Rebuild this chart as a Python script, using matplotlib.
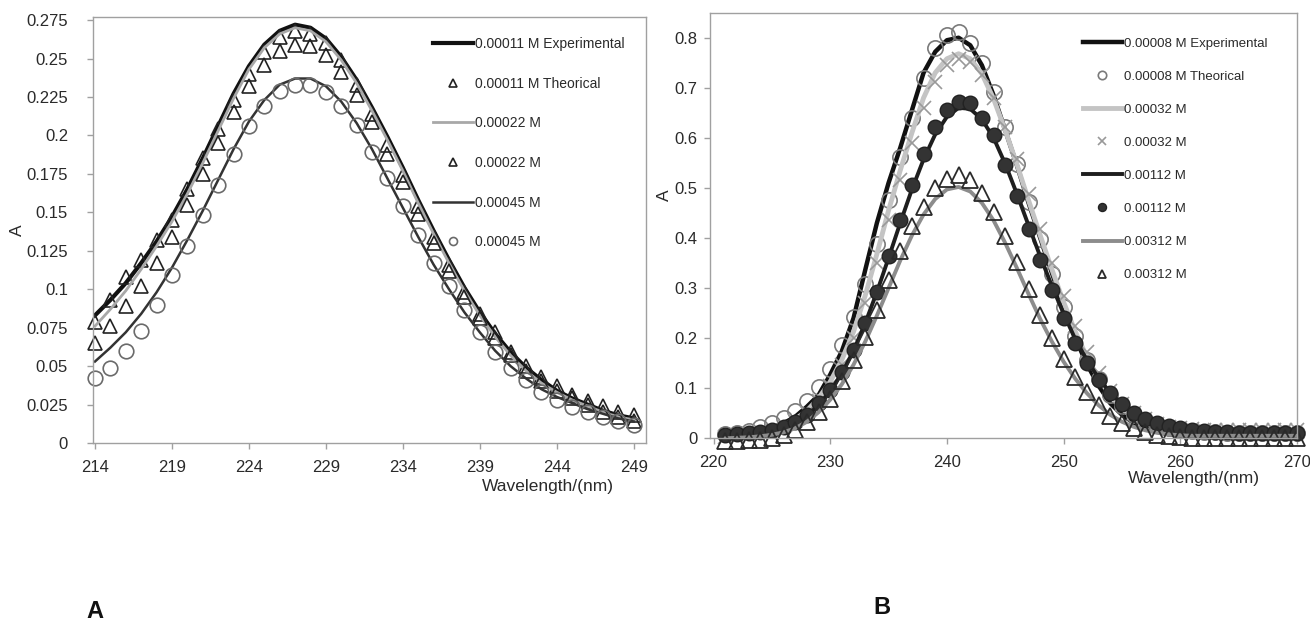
import numpy as np
from matplotlib import pyplot as plt

plt.rcParams['font.family'] = ['Liberation Sans', 'DejaVu Sans']

# ---- panel A: 214-249 nm ----
wl_a = list(range(214, 250))
a_exp_011 = [0.083, 0.093, 0.104, 0.117, 0.131, 0.147, 0.165, 0.185, 0.206, 0.227,
             0.245, 0.259, 0.268, 0.272, 0.270, 0.263, 0.251, 0.236, 0.218, 0.199,
             0.179, 0.158, 0.138, 0.119, 0.101, 0.085, 0.071, 0.059, 0.049, 0.041,
             0.034, 0.029, 0.025, 0.021, 0.018, 0.016]
a_th_011 = [0.079, 0.093, 0.108, 0.119, 0.132, 0.145, 0.165, 0.185, 0.204, 0.223,
            0.240, 0.254, 0.264, 0.268, 0.266, 0.260, 0.249, 0.233, 0.214, 0.194,
            0.174, 0.154, 0.134, 0.116, 0.098, 0.084, 0.072, 0.059, 0.050, 0.043,
            0.037, 0.031, 0.027, 0.024, 0.020, 0.018]
a_exp_022 = [0.076, 0.087, 0.099, 0.113, 0.128, 0.144, 0.162, 0.182, 0.203, 0.224,
             0.243, 0.257, 0.266, 0.270, 0.268, 0.261, 0.249, 0.234, 0.216, 0.197,
             0.177, 0.156, 0.136, 0.117, 0.099, 0.083, 0.069, 0.057, 0.047, 0.039,
             0.033, 0.028, 0.024, 0.020, 0.017, 0.015]
a_th_022 = [0.065, 0.076, 0.089, 0.102, 0.117, 0.134, 0.155, 0.175, 0.195, 0.215,
            0.232, 0.246, 0.255, 0.259, 0.258, 0.252, 0.241, 0.226, 0.209, 0.188,
            0.170, 0.149, 0.130, 0.112, 0.095, 0.081, 0.068, 0.057, 0.047, 0.040,
            0.034, 0.029, 0.025, 0.020, 0.017, 0.014]
a_exp_045 = [0.053, 0.062, 0.072, 0.084, 0.098, 0.114, 0.132, 0.151, 0.171, 0.191,
             0.209, 0.223, 0.233, 0.237, 0.237, 0.232, 0.222, 0.208, 0.191, 0.172,
             0.153, 0.134, 0.116, 0.100, 0.085, 0.072, 0.060, 0.050, 0.042, 0.035,
             0.030, 0.026, 0.022, 0.019, 0.016, 0.014]
a_th_045 = [0.042, 0.049, 0.060, 0.073, 0.090, 0.109, 0.128, 0.148, 0.168, 0.188,
            0.206, 0.219, 0.229, 0.233, 0.233, 0.228, 0.219, 0.207, 0.189, 0.172,
            0.154, 0.135, 0.117, 0.102, 0.0865, 0.072, 0.059, 0.0485, 0.041, 0.033,
            0.028, 0.0236, 0.020, 0.017, 0.014, 0.012]
a_xticks = [214, 219, 224, 229, 234, 239, 244, 249]
a_yticks = [0, 0.025, 0.05, 0.075, 0.1, 0.125, 0.15, 0.175, 0.2, 0.225, 0.25, 0.275]
a_ylabels = ['0', '0.025', '0.05', '0.075', '0.1', '0.125', '0.15', '0.175',
             '0.2', '0.225', '0.25', '0.275']

# ---- panel B: 221-270 nm ----
wl_b = list(range(221, 271))
b_exp_008 = [0.006, 0.009, 0.012, 0.016, 0.021, 0.030, 0.043, 0.063, 0.086, 0.127,
             0.174, 0.240, 0.336, 0.430, 0.510, 0.580, 0.655, 0.730, 0.772, 0.795,
             0.800, 0.785, 0.745, 0.685, 0.615, 0.545, 0.470, 0.400, 0.330, 0.262,
             0.200, 0.148, 0.105, 0.070, 0.047, 0.031, 0.020, 0.013, 0.008, 0.005,
             0.003, 0.002, 0.002, 0.001, 0.001, 0.001, 0.001, 0.001, 0.001, 0.001]
b_th_008 = [0.009, 0.011, 0.015, 0.022, 0.030, 0.040, 0.055, 0.075, 0.103, 0.139,
            0.186, 0.242, 0.309, 0.389, 0.475, 0.561, 0.640, 0.720, 0.780, 0.805,
            0.812, 0.790, 0.750, 0.692, 0.622, 0.548, 0.472, 0.398, 0.328, 0.263,
            0.205, 0.157, 0.118, 0.087, 0.064, 0.047, 0.035, 0.027, 0.021, 0.017,
            0.015, 0.013, 0.012, 0.011, 0.011, 0.010, 0.010, 0.010, 0.010, 0.010]
b_exp_032 = [0.004, 0.006, 0.009, 0.013, 0.018, 0.026, 0.038, 0.055, 0.080, 0.113,
             0.157, 0.213, 0.285, 0.368, 0.455, 0.535, 0.610, 0.680, 0.730, 0.758,
             0.768, 0.758, 0.728, 0.678, 0.615, 0.547, 0.475, 0.405, 0.337, 0.272,
             0.213, 0.162, 0.120, 0.086, 0.061, 0.044, 0.032, 0.024, 0.019, 0.016,
             0.014, 0.013, 0.012, 0.012, 0.011, 0.011, 0.011, 0.011, 0.011, 0.011]
b_th_032 = [0.003, 0.005, 0.008, 0.012, 0.017, 0.024, 0.035, 0.051, 0.074, 0.105,
            0.147, 0.200, 0.270, 0.350, 0.435, 0.515, 0.590, 0.660, 0.712, 0.745,
            0.758, 0.752, 0.725, 0.680, 0.622, 0.557, 0.487, 0.418, 0.350, 0.285,
            0.225, 0.173, 0.130, 0.095, 0.069, 0.051, 0.038, 0.029, 0.023, 0.020,
            0.018, 0.017, 0.016, 0.016, 0.016, 0.016, 0.016, 0.016, 0.016, 0.016]
b_exp_112 = [0.005, 0.007, 0.009, 0.012, 0.016, 0.022, 0.031, 0.045, 0.066, 0.094,
             0.130, 0.175, 0.230, 0.292, 0.360, 0.430, 0.497, 0.557, 0.607, 0.642,
             0.660, 0.658, 0.637, 0.600, 0.548, 0.488, 0.425, 0.363, 0.304, 0.249,
             0.198, 0.156, 0.120, 0.091, 0.068, 0.050, 0.037, 0.028, 0.021, 0.016,
             0.013, 0.011, 0.010, 0.009, 0.008, 0.008, 0.008, 0.008, 0.008, 0.008]
b_th_112 = [0.007, 0.008, 0.010, 0.013, 0.017, 0.023, 0.033, 0.047, 0.070, 0.097,
            0.133, 0.176, 0.230, 0.293, 0.364, 0.436, 0.505, 0.568, 0.622, 0.655,
            0.672, 0.670, 0.640, 0.605, 0.545, 0.483, 0.418, 0.357, 0.297, 0.241,
            0.190, 0.150, 0.117, 0.090, 0.068, 0.051, 0.039, 0.030, 0.024, 0.020,
            0.017, 0.015, 0.013, 0.012, 0.011, 0.011, 0.010, 0.010, 0.010, 0.010]
b_exp_312 = [0.000, 0.001, 0.002, 0.004, 0.007, 0.012, 0.020, 0.033, 0.052, 0.077,
             0.108, 0.147, 0.193, 0.245, 0.300, 0.355, 0.405, 0.447, 0.478, 0.497,
             0.502, 0.493, 0.470, 0.435, 0.390, 0.340, 0.288, 0.238, 0.193, 0.153,
             0.119, 0.090, 0.066, 0.047, 0.033, 0.023, 0.016, 0.011, 0.008, 0.006,
             0.005, 0.005, 0.005, 0.005, 0.005, 0.005, 0.005, 0.005, 0.005, 0.005]
b_th_312 = [-0.006, -0.005, -0.004, -0.003, 0.000, 0.006, 0.017, 0.032, 0.052, 0.078,
            0.115, 0.156, 0.203, 0.256, 0.317, 0.375, 0.424, 0.462, 0.500, 0.518,
            0.525, 0.515, 0.490, 0.452, 0.405, 0.352, 0.298, 0.246, 0.200, 0.158,
            0.123, 0.092, 0.066, 0.045, 0.030, 0.020, 0.012, 0.007, 0.004, 0.002,
            0.001, 0.000, 0.000, 0.000, 0.000, 0.000, 0.000, 0.000, 0.000, 0.000]
b_xticks = [220, 230, 240, 250, 260, 270]
b_yticks = [0, 0.1, 0.2, 0.3, 0.4, 0.5, 0.6, 0.7, 0.8]
b_ylabels = ['0', '0.1', '0.2', '0.3', '0.4', '0.5', '0.6', '0.7', '0.8']

W, H = 1310, 621
FRAME = '#a0a0a0'
TXT = '#2a2a2a'

fig = plt.figure(figsize=(W / 100, H / 100), dpi=100)
axA = fig.add_axes([93 / W, 1 - 443 / H, (646 - 93) / W, (443 - 17) / H])
axB = fig.add_axes([710 / W, 1 - 438.3 / H, (1297 - 710) / W, (438.3 - 12.7) / H])


def style(ax, ypad):
    for s in ax.spines.values():
        s.set_color(FRAME)
        s.set_linewidth(1.0)
    ax.tick_params(direction='out', length=4, width=1, color=FRAME,
                   labelsize=12, labelcolor=TXT)
    ax.tick_params(axis='x', pad=8)
    ax.tick_params(axis='y', pad=ypad)


# panel A
axA.plot(wl_a, a_exp_011, color='#111111', lw=3, label='0.00011 M Experimental')
axA.plot(wl_a, a_th_011, ls='none', marker='^', ms=10, mfc='none', mec='#222222',
         mew=1.2, label='0.00011 M Theorical', clip_on=False)
axA.plot(wl_a, a_exp_022, color='#a8a8a8', lw=2, label='0.00022 M')
axA.plot(wl_a, a_th_022, ls='none', marker='^', ms=10, mfc='none', mec='#222222',
         mew=1.2, label='0.00022 M', clip_on=False)
axA.plot(wl_a, a_exp_045, color='#333333', lw=1.8, label='0.00045 M')
axA.plot(wl_a, a_th_045, ls='none', marker='o', ms=10.5, mfc='none', mec='#6a6a6a',
         mew=1.2, label='0.00045 M', clip_on=False)
axA.set_xlim(213.87, 249.8)
axA.set_ylim(0, 0.277)
axA.set_xticks(a_xticks)
axA.set_yticks(a_yticks)
axA.set_yticklabels(a_ylabels)
style(axA, 14)
axA.legend(loc='upper left', bbox_to_anchor=(0.615, 0.9535), frameon=False,
           fontsize=10, handlelength=2.9, handletextpad=0.15, labelspacing=1.85,
           borderpad=0, borderaxespad=0, markerscale=0.55, labelcolor=TXT)

# panel B
axB.plot(wl_b, b_exp_008, color='#111111', lw=3.2, label='0.00008 M Experimental')
axB.plot(wl_b, b_th_008, ls='none', marker='o', ms=11, mfc='none', mec='#7a7a7a',
         mew=1.2, label='0.00008 M Theorical', clip_on=False)
axB.plot(wl_b, b_exp_032, color='#c4c4c4', lw=3.5, label='0.00032 M')
axB.plot(wl_b, b_th_032, ls='none', marker='x', ms=9.5, mec='#999999',
         mew=1.2, label='0.00032 M', clip_on=False)
axB.plot(wl_b, b_exp_112, color='#1e1e1e', lw=2.8, label='0.00112 M')
axB.plot(wl_b, b_th_112, ls='none', marker='o', ms=10.5, mfc='#333333', mec='#222222',
         mew=1, label='0.00112 M', clip_on=False)
axB.plot(wl_b, b_exp_312, color='#8c8c8c', lw=2.8, label='0.00312 M')
axB.plot(wl_b, b_th_312, ls='none', marker='^', ms=11.5, mfc='none', mec='#2a2a2a',
         mew=1.3, label='0.00312 M', clip_on=False)
axB.set_xlim(219.7, 270)
axB.set_ylim(0, 0.85)
axB.set_xticks(b_xticks)
axB.set_yticks(b_yticks)
axB.set_yticklabels(b_ylabels)
style(axB, 5)
axB.legend(loc='upper left', bbox_to_anchor=(0.636, 0.942), frameon=False,
           fontsize=9.5, handlelength=2.9, handletextpad=0.15, labelspacing=1.58,
           borderpad=0, borderaxespad=0, markerscale=0.55, labelcolor=TXT)

# axis titles and panel letters
fig.text(614 / W, 1 - 487 / H, 'Wavelength/(nm)', ha='right', va='center',
         fontsize=12.5, color=TXT)
fig.text(1260 / W, 1 - 478 / H, 'Wavelength/(nm)', ha='right', va='center',
         fontsize=12.5, color=TXT)
fig.text(17 / W, 1 - 230 / H, 'A', rotation=90, ha='center', va='center',
         fontsize=12.5, color=TXT)
fig.text(664 / W, 1 - 195 / H, 'A', rotation=90, ha='center', va='center',
         fontsize=12.5, color=TXT)
fig.text(86 / W, 1 - 611 / H, 'A', ha='left', va='center', fontsize=17,
         fontweight='bold', color='#111111')
fig.text(873 / W, 1 - 607 / H, 'B', ha='left', va='center', fontsize=17,
         fontweight='bold', color='#111111')

fig.savefig('out.png', dpi=100, facecolor='white')
